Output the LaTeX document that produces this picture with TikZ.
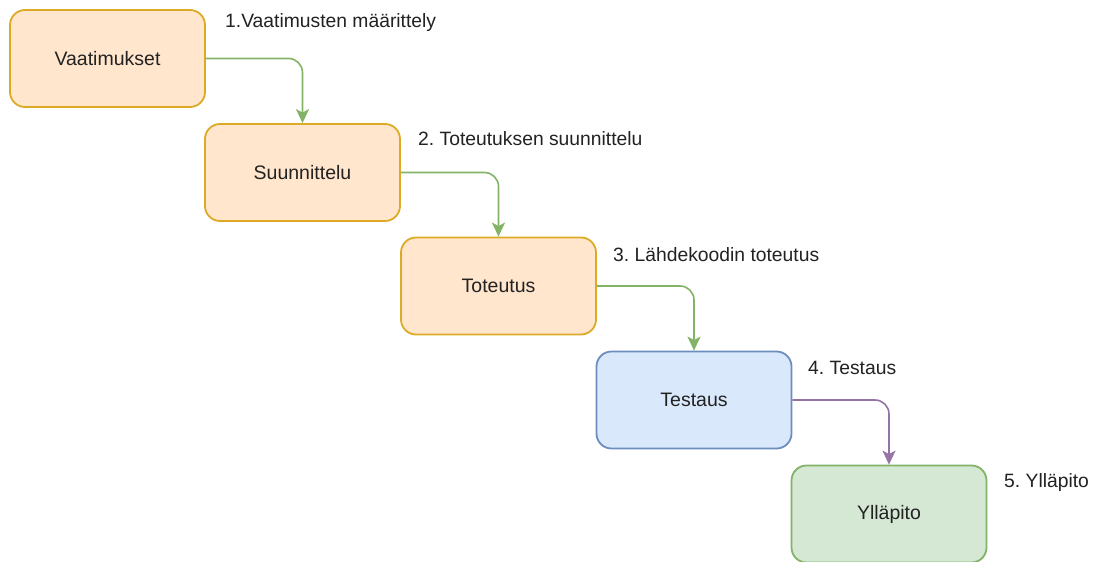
\documentclass[tikz,border=0pt]{standalone}
\usepackage{fontspec}
\setmainfont{Liberation Sans}
\usetikzlibrary{arrows.meta}
\frenchspacing
\definecolor{orfill}{HTML}{FFE6CC}
\definecolor{ordraw}{HTML}{D79B00}
\definecolor{blfill}{HTML}{DAE8FC}
\definecolor{bldraw}{HTML}{6C8EBF}
\definecolor{grfill}{HTML}{D5E8D4}
\definecolor{grdraw}{HTML}{82B366}
\definecolor{pudraw}{HTML}{9673A6}
\definecolor{txt}{HTML}{222222}
\tikzset{
  phase/.style={draw, line width=1.8pt, rounded corners=15pt,
    minimum width=195pt, minimum height=97pt, inner sep=0pt,
    font=\fontsize{19.5}{23}\selectfont, text=txt},
  orbox/.style={phase, fill=orfill, draw=ordraw!85},
  blbox/.style={phase, fill=blfill, draw=bldraw},
  grbox/.style={phase, fill=grfill, draw=grdraw},
  steplabel/.style={anchor=west, inner sep=0pt, text=txt,
    font=\fontsize{19.3}{23}\selectfont},
  flow/.style={line width=1.6pt, rounded corners=14pt,
    -{Stealth[length=14pt, width=13pt, inset=3.5pt]}},
}
\begin{document}
\begin{tikzpicture}[x=1pt, y=-1pt]
  \useasboundingbox[fill=white] (0,0) rectangle (1100,562);
  \begin{scope}
    \clip (0,0) rectangle (1100,562);
    \node[orbox] (req)  at (107.5, 58.5) {Vaatimukset};
    \node[orbox] (des)  at (302.5, 172.5) {Suunnittelu};
    \node[orbox] (imp)  at (498.5, 286) {Toteutus};
    \node[blbox] (tst)  at (694, 400) {Testaus};
    \node[grbox] (mnt)  at (889, 514) {Ylläpito};

    \node[steplabel] (l1) at (225, 23)  {1.Vaatimusten määrittely};
    \node[steplabel] (l2) at (418, 139) {2. Toteutuksen suunnittelu};
    \node[steplabel] (l3) at (613, 255) {3. Lähdekoodin toteutus};
    \node[steplabel] (l4) at (808, 368) {4. Testaus};
    \node[steplabel] (l5) at (1004, 483) {5. Ylläpito};

    \draw[flow, draw=grdraw] (req.east) -| (des.north);
    \draw[flow, draw=grdraw] (des.east) -| (imp.north);
    \draw[flow, draw=grdraw] (imp.east) -| (tst.north);
    \draw[flow, draw=pudraw] (tst.east) -| (mnt.north);
  \end{scope}
\end{tikzpicture}
\end{document}
